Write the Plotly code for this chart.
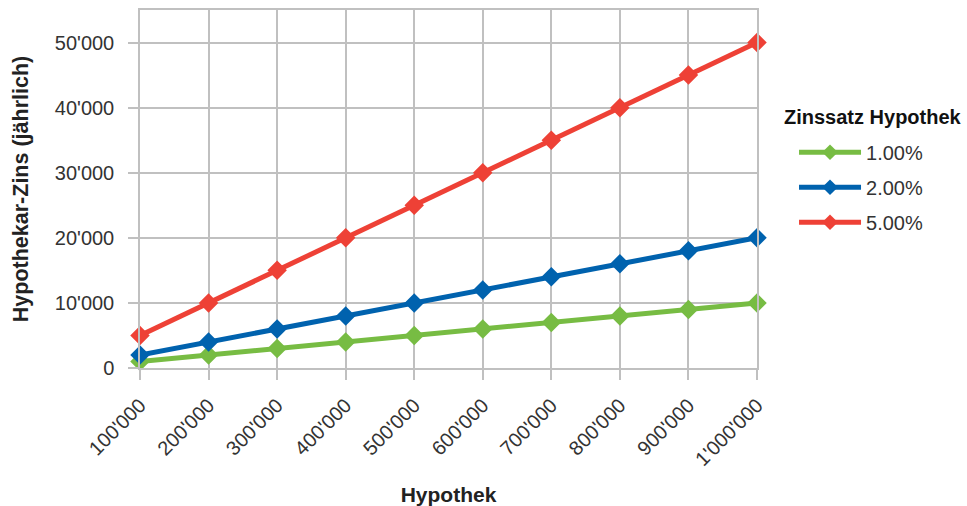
import plotly.graph_objects as go

# Mortgage amounts (category labels) and yearly interest for three rates
hypothek = ["100'000", "200'000", "300'000", "400'000", "500'000",
            "600'000", "700'000", "800'000", "900'000", "1'000'000"]
zins_1 = [1000, 2000, 3000, 4000, 5000, 6000, 7000, 8000, 9000, 10000]
zins_2 = [2000, 4000, 6000, 8000, 10000, 12000, 14000, 16000, 18000, 20000]
zins_5 = [5000, 10000, 15000, 20000, 25000, 30000, 35000, 40000, 45000, 50000]

series = [
    ("1.00%", zins_1, "#77bc43"),
    ("2.00%", zins_2, "#0062ae"),
    ("5.00%", zins_5, "#ee4136"),
]

FONT = "Liberation Sans, Arial, sans-serif"
GRID = "#c0c0c0"

fig = go.Figure()
for name, vals, color in series:
    fig.add_trace(go.Scatter(
        x=hypothek, y=vals, name=name, legendgroup=name, mode="lines+markers",
        line=dict(color=color, width=5),
        marker=dict(symbol="diamond", size=15, color=color),
        cliponaxis=False,
    ))

fig.update_layout(
    width=967, height=506,
    margin=dict(l=140, r=210, t=10, b=138, autoexpand=False),
    paper_bgcolor="white", plot_bgcolor="white",
    separators=".'",
    font=dict(family=FONT, size=20, color="#333333"),
    showlegend=True,
    legend=dict(
        x=1.06, y=0.657, xanchor="left", yanchor="top",
        font=dict(size=20, color="#333333"),
        tracegroupgap=6, itemwidth=62, itemsizing="constant",
    ),
    annotations=[dict(
        text="<b>Zinssatz Hypothek</b>", xref="paper", yref="paper",
        x=1.04, y=0.70, xanchor="left", yanchor="middle", showarrow=False,
        font=dict(size=20, color="#111111"),
    )],
)

fig.update_xaxes(
    type="category", range=[0, 9],
    showgrid=True, gridcolor=GRID, gridwidth=1.5,
    showline=True, linecolor=GRID, linewidth=1.5, mirror=True,
    ticks="outside", ticklen=10, tickcolor=GRID, tickwidth=1.5,
    tickangle=-45, ticklabelstandoff=6,
    title=dict(text="<b>Hypothek</b>", font=dict(size=21, color="#222222"), standoff=18),
)
fig.update_yaxes(
    range=[0, 55000], dtick=10000, tickformat=",",
    showgrid=True, gridcolor=GRID, gridwidth=1.5,
    showline=True, linecolor=GRID, linewidth=1.5, mirror=True,
    ticks="outside", ticklen=10, tickcolor=GRID, tickwidth=1.5,
    ticklabelstandoff=10,
    zeroline=False,
    title=dict(text="<b>Hypothekar-Zins (jährlich)</b>", font=dict(size=21.5, color="#222222"), standoff=20),
)

fig.write_html("out.html")
